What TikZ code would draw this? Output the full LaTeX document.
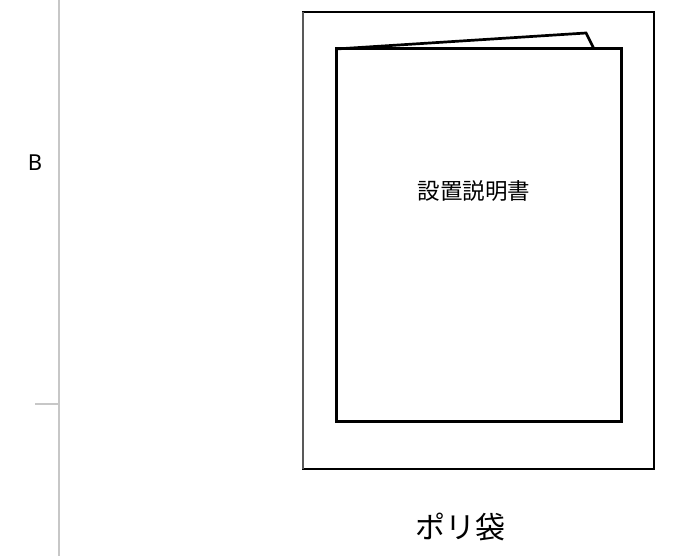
\documentclass[tikz,border=0pt]{standalone}
\usepackage{fontspec}
\newfontfamily\cjk{Noto Sans CJK JP}
\setmainfont{Noto Sans}
\begin{document}
\begin{tikzpicture}[x=1pt,y=-1pt,
  guide/.style={draw=black!22,line width=1.6pt},
  bag/.style={draw=black,line width=1.7pt},
  manual/.style={draw=black,line width=3.0pt,line join=miter},
  lbl/.style={inner sep=0pt,anchor=center}]
\useasboundingbox (0,0) rectangle (677,556);
% guides
\coordinate (gtop) at (59,0);
\coordinate (gbot) at (59,556);
\coordinate (tickL) at (35,404);
\coordinate (tickR) at (59,404);
\draw[guide] (gtop) -- (gbot);
\draw[guide] (tickL) -- (tickR);
\node[lbl,font=\fontsize{22}{24}\selectfont] (B) at (35,163) {B};
% bag
\coordinate (bagTL) at (303,12);
\coordinate (bagBR) at (654,469);
\draw[bag] (bagTL) rectangle (bagBR);
\draw[draw=black!65,line width=1.7pt] (303,12) -- (303,469);
% manual
\coordinate (mTL) at (336,49);
\coordinate (mBR) at (621,421);
\coordinate (flapTop) at (586,33);
\coordinate (flapEnd) at (594,49);
\draw[manual] (mTL) rectangle (mBR);
\draw[manual,line width=2.7pt] (mTL) -- (flapTop) -- (flapEnd);
\node[lbl,font=\cjk\fontsize{22.5}{24}\selectfont] (title) at (474,191) {設置説明書};
\node[lbl,font=\cjk\fontsize{30}{32}\selectfont] (poly) at (460,527) {ポリ袋};
\end{tikzpicture}
\end{document}
